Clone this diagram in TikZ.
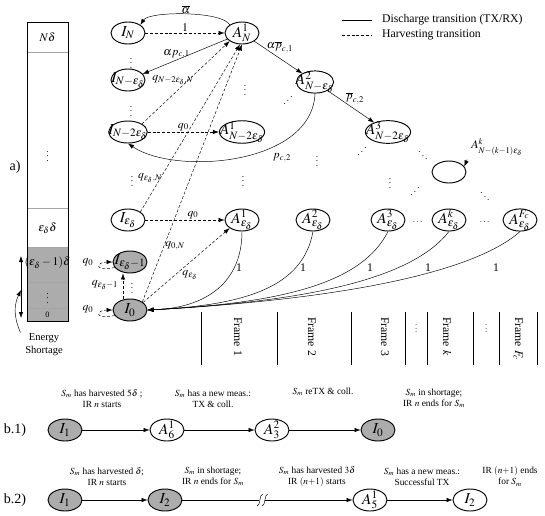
\documentclass[tikz,border=0pt]{standalone}
\usepackage{amsmath,amssymb}
\usepackage{mathptmx}
\usepackage{fontspec}
\setmainfont{Liberation Serif}
\usepackage{graphicx}
\usepackage{tikz}
\usetikzlibrary{positioning, shapes, arrows.meta, calc}
\tikzset{
  state/.style={draw, ellipse, thick, minimum width=1.02cm, minimum height=0.66cm,
                inner xsep=-5pt, inner ysep=-2pt, font=\fontsize{13}{15}\selectfont},
  gstate/.style={state, fill=gray!65},
  harv/.style={->, dash pattern=on 2.5pt off 1.6pt},
  lab/.style={font=\normalsize, inner sep=1pt},
  frm/.style={rotate=-90, anchor=west, font=\normalsize},
  note/.style={align=center, font=\footnotesize, inner sep=0pt},
  dts/.style={font=\footnotesize, inner sep=0pt}
}
\newcommand{\epsd}{\varepsilon_{\delta}}
\newcommand{\updots}{\reflectbox{$\ddots$}}

\begin{document}
\begin{tikzpicture}[x=0.3cm, y=0.3cm, >={Latex[length=1.8mm, width=1.3mm]}]
  \useasboundingbox (0,0) rectangle (54.5,-51.5);
  % energy levels
  \fill[gray!65] (2.7,-24.7) rectangle (6.8,-32.1);
  \draw[gray!70] (2.7,-5.2) -- (6.8,-5.2) (2.7,-20.8) -- (6.8,-20.8)
    (2.7,-24.7) -- (6.8,-24.7) (2.7,-28.2) -- (6.8,-28.2) (2.7,-30.8) -- (6.8,-30.8);
  \draw[thick] (2.7,-2.2) rectangle (6.8,-32.1);
  \node at (4.75,-3.7) {$N\delta$};
  \node[dts] at (4.75,-15.3) {$\vdots$};
  \node at (4.75,-22.8) {$\epsd\delta$};
  \node[inner sep=0pt] at (4.75,-26.3) {$(\epsd-1)\delta$};
  \node[dts] at (4.75,-29.5) {$\vdots$};
  \node[font=\scriptsize, inner sep=0pt] at (4.75,-31.45) {0};
  \draw[<->] (2.1,-25.6) -- coordinate[pos=0.55] (lvl) (2.1,-31.8);
  \node[align=center, font=\small, inner sep=1pt] (short) at (4.4,-34.5) {Energy\\Shortage};
  \draw[->] ([xshift=-1mm]short.north west) to[bend left=25] (lvl);
  \node[font=\large] (la) at (1.5,-16.7) {a)};

  % legend
  \draw (34.2,-2.0) -- (37.2,-2.0);
  \draw[dash pattern=on 2.5pt off 1.6pt] (34.2,-3.5) -- (37.2,-3.5);
  \node[anchor=west] at (37.8,-2.0) {Discharge transition (TX/RX)};
  \node[anchor=west] at (37.8,-3.5) {Harvesting transition};

  % idle states
  \node[state] (IN)  at (12.8,-3.3)  {$I_N$};
  \node[state] (IN1) at (12.8,-8.0)  {$I_{N-\epsd}$};
  \node[state] (IN2) at (12.8,-13.2) {$I_{N-2\epsd}$};
  \node[state] (Ie)  at (12.8,-22.0) {$I_{\epsd}$};
  \node[gstate] (Ie1) at (13.0,-26.2) {$I_{\epsd-1}$};
  \node[gstate] (I0)  at (13.0,-31.0) {$I_0$};
  % active states
  \node[state] (AN)  at (24.2,-3.3)  {$A_N^1$};
  \node[state] (AN2) at (24.2,-13.2) {$A_{N-2\epsd}^1$};
  \node[state] (Ae1) at (24.2,-22.0) {$A_{\epsd}^1$};
  \node[state] (B2)  at (31.5,-8.2)  {$A_{N-\epsd}^2$};
  \node[state] (B3)  at (38.8,-13.2) {$A_{N-2\epsd}^3$};
  \node[state] (Bk)  at (44.9,-17.2) {};
  \node[state] (Ae2) at (31.3,-22.0) {$A_{\epsd}^2$};
  \node[state] (Ae3) at (38.8,-22.0) {$A_{\epsd}^3$};
  \node[state] (Aek) at (44.9,-22.0) {$A_{\epsd}^k$};
  \node[state] (AeF) at (52.0,-22.0) {$A_{\epsd}^{F_c}$};
  \node (Bklab) at (49.7,-14.7) {$A_{N-(k-1)\epsd}^k$};

  % dots
  \node[dts] at (13.1,-6.0)  {$\vdots$};
  \node[dts] at (13.1,-10.8) {$\vdots$};
  \node[dts] at (24.5,-8.7)  {$\vdots$};
  \node[dts] at (28.8,-9.7)  {\updots};
  \node[dts] at (13.2,-17.8) {$\vdots$};
  \node[dts] at (24.3,-17.8) {$\vdots$};
  \node[dts] at (31.7,-15.8) {$\vdots$};
  \node[dts] at (36.2,-14.8) {\updots};
  \node[dts] at (42.3,-15.2) {$\ddots$};
  \node[dts] at (39.0,-18.0) {$\vdots$};
  \node[dts] at (41.5,-18.8) {\updots};
  \node[dts] at (48.5,-19.3) {$\ddots$};
  \node[dts] at (41.8,-22.2) {$\cdots$};
  \node[dts] at (48.5,-22.2) {$\cdots$};
  \node[dts] at (13.2,-28.5) {$\vdots$};

  % discharge transitions
  \draw[->] (AN.north west) .. controls +(-0.7,1.4) and +(0.9,1.4) ..
    node[lab, above, inner sep=0.5pt] {$\overline{\alpha}$} (IN.north east);
  \draw[->] (AN) -- node[lab, pos=0.6, above] {$\alpha p_{c,1}$} (IN1);
  \draw[->] (AN) -- (B2);
  \draw[->] (B2) -- (B3);
  \draw[->] (B2.south) .. controls +(-0.3,-7.2) and +(4.7,-3.2) .. (IN2.south);
  \draw[->] (Bklab.south west) -- (Bk.20);
  \draw[->] (Ae1.south) .. controls +(0,-5.0) and +(6,0.2) .. (I0.east);
  \draw[->] (Ae2.south) .. controls +(-1.0,-5.5) and +(10,0.5) .. (I0.east);
  \draw[->] (Ae3.south) .. controls +(-2.5,-5.0) and +(14,0.7) .. (I0.east);
  \draw[->] (Aek.south) .. controls +(-3.5,-4.5) and +(17,0.9) .. (I0.east);
  \draw[->] (AeF.south) .. controls +(-4.5,-4.0) and +(20,1.1) .. (I0.east);

  % harvesting transitions
  \draw[harv] (IN) -- node[lab, above] {$1$} (AN);
  \draw[harv] (IN2.north east) -- (AN.south west);
  \draw[harv] (IN2) -- node[lab, above] {$q_0$} (AN2);
  \draw[harv] (Ie.north east) -- (AN.-100);
  \draw[harv] (Ie) -- node[lab, above, pos=0.6] {$q_0$} (Ae1);
  \draw[harv] (I0.north east) -- (AN.south);
  \draw[harv] (I0.30) -- (Ae1.south west);
  \draw[harv] ([xshift=-2.1mm]I0.north) -- ([xshift=-2.1mm]Ie1.south);
  \draw[harv] (Ie1.200) .. controls +(-2.2,-0.4) and +(-1.6,0) .. (Ie1.west);
  \draw[harv] (I0.200) .. controls +(-2.2,-0.4) and +(-1.6,0) .. (I0.west);

  % transition labels
  \node[lab] at (28.0,-4.7) {$\alpha\overline{p}_{c,1}$};
  \node[lab] at (35.5,-9.8) {$\overline{p}_{c,2}$};
  \node[lab] at (28.2,-15.8) {$p_{c,2}$};
  \node[lab] at (17.3,-8.0) {$q_{N-2\epsd,N}$};
  \node[lab] at (15.0,-17.8) {$q_{\epsd,N}$};
  \node[lab] at (17.5,-24.6) {$q_{0,N}$};
  \node[lab] at (19.0,-27.5) {$q_{\epsd}$};
  \node[lab] at (10.5,-28.5) {$q_{\epsd-1}$};
  \node[lab] at (8.8,-26.2) {$q_0$};
  \node[lab] at (8.8,-30.9) {$q_0$};
  \foreach \x in {23.9, 30.3, 37.0, 42.8, 49.6}
    \node[lab] at (\x,-26.8) {1};

  % frames
  \foreach \x in {20.1, 27.7, 35.1, 40.5, 42.7, 47.3, 49.9, 53.7}
    \draw (\x,-31.2) -- (\x,-36.5);
  \node[frm] (f1) at (23.8,-31.3) {Frame 1};
  \node[frm] (f2) at (31.2,-31.3) {Frame 2};
  \node[frm] (f3) at (38.5,-31.3) {Frame 3};
  \node[frm] (fk) at (44.7,-31.3) {Frame $k$};
  \node[frm] (fF) at (51.8,-31.3) {Frame $F_c$};
  \node[rotate=-90, dts] at (41.6,-32.9) {$\cdots$};
  \node[rotate=-90, dts] at (48.6,-32.9) {$\cdots$};

  % b.1
  \node[font=\large] (lb1) at (1.5,-43.0) {b.1)};
  \node[gstate] (P1) at (6.5,-43.0)  {$I_1$};
  \node[state]  (P2) at (16.7,-43.0) {$A_6^1$};
  \node[state]  (P3) at (27.2,-43.0) {$A_3^2$};
  \node[gstate] (P4) at (37.8,-43.0) {$I_0$};
  \draw[->] (P1) -- (P2);
  \draw[->] (P2) -- (P3);
  \draw[->] (P3) -- (P4);
  \node[note] at (10.2,-39.85) {$S_m$ has harvested $5\delta$ ;\\IR $n$ starts};
  \node[note] at (21.3,-39.85) {$S_m$ has a new meas.:\\TX \& coll.};
  \node[note] at (32.3,-39.2)  {$S_m$ reTX \& coll.};
  \node[note] at (43.4,-39.85) {$S_m$ in shortage;\\IR $n$ ends for $S_m$};

  % b.2
  \node[font=\large] (lb2) at (1.5,-50.0) {b.2)};
  \node[gstate] (Q1) at (6.5,-50.0)  {$I_1$};
  \node[gstate] (Q2) at (16.5,-50.0) {$I_2$};
  \node[state]  (Q3) at (37.0,-50.0) {$A_5^1$};
  \node[state]  (Q4) at (47.0,-50.0) {$I_2$};
  \draw[->] (Q1) -- (Q2);
  \draw[->] (Q2) -- coordinate[pos=0.47] (brk) (Q3);
  \draw[->] (Q3) -- (Q4);
  \fill[white] ($(brk)+(-0.3,-0.5)$) rectangle ($(brk)+(0.3,0.5)$);
  \foreach \s in {-0.25,0.25}
    \draw ($(brk)+(\s-0.3,-0.6)$) .. controls +(0.4,0) and +(-0.4,0) .. ($(brk)+(\s+0.3,0.6)$);
  \node[note] at (10.7,-47.65) {$S_m$ has harvested $\delta$;\\IR $n$ starts};
  \node[note] at (21.3,-47.65) {$S_m$ in shortage;\\IR $n$ ends for $S_m$};
  \node[note] at (31.7,-47.65) {$S_m$ has harvested $3\delta$\\IR $(n{+}1)$ starts};
  \node[note] at (42.2,-47.65) {$S_m$ has a new meas.:\\Successful TX};
  \node[note] at (51.0,-47.65) {IR $(n{+}1)$ ends\\for $S_m$};
\end{tikzpicture}
\end{document}
